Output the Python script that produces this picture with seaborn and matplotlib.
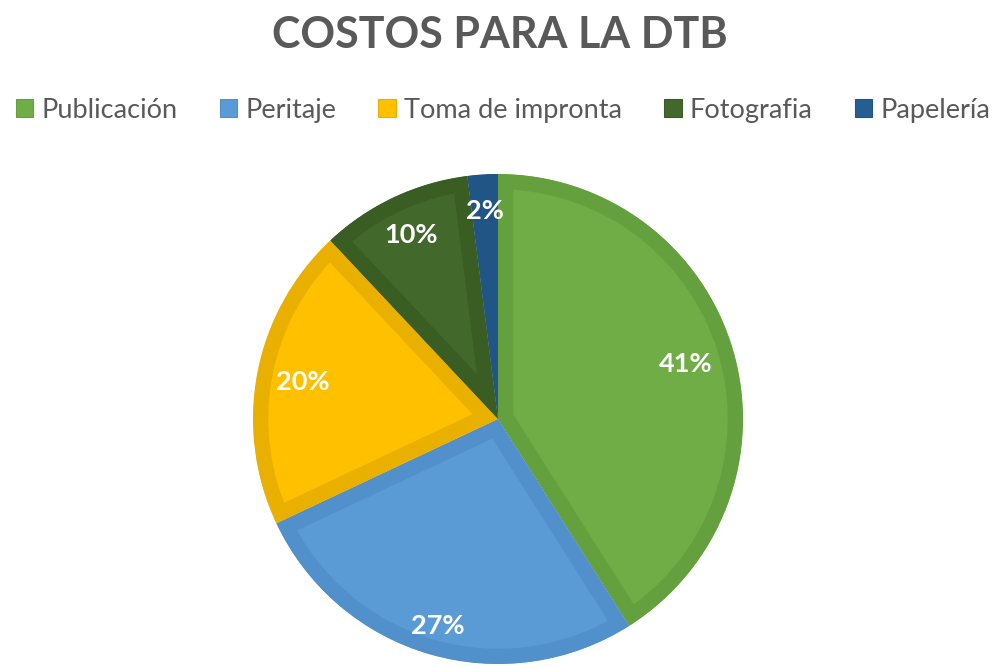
import matplotlib
matplotlib.use("Agg")
import numpy as np
import matplotlib.pyplot as plt
from matplotlib.patches import Patch
import seaborn as sns

# data
categories = ["Publicación", "Peritaje", "Toma de impronta", "Fotografia", "Papelería"]
values = [41, 27, 20, 10, 2]
fill_colors = ["#70AD47", "#5B9BD5", "#FFC000", "#43682B", "#255E91"]
edge_colors = ["#64A03E", "#5290CB", "#EAB000", "#3A5D24", "#215585"]
label_dist = [0.80, 0.88, 0.81, 0.83, 0.85]  # Excel "best fit" label spots

sns.set_style("white")
plt.rcParams['font.family'] = ['Lato', 'DejaVu Sans']

fig = plt.figure(figsize=(10, 6.67), dpi=100)
ax = fig.add_axes([0.253, 0.0045, 0.49, 0.7346])

wedges, texts, autotexts = ax.pie(
    values, colors=fill_colors, startangle=90, counterclock=False,
    autopct=lambda p: f"{p:.0f}%", pctdistance=0.84, radius=1,
    textprops=dict(color="white", fontsize=19.5, fontweight="bold"),
)
# inner border: thick edge clipped to the wedge itself
for w, ec in zip(wedges, edge_colors):
    w.set_edgecolor(ec)
    w.set_linewidth(22)
    w.set_joinstyle("miter")
    w.set_clip_on(True)
    w.set_clip_path(w)
for w, t, d in zip(wedges, autotexts, label_dist):
    a = np.deg2rad((w.theta1 + w.theta2) / 2)
    t.set_position((d * np.cos(a), d * np.sin(a)))
ax.set_xlim(-1, 1)
ax.set_ylim(-1, 1)
ax.set_aspect("equal")
ax.axis("off")

fig.text(0.5, 0.948, "COSTOS PARA LA DTB", ha="center", va="center",
         fontsize=31, fontweight="bold", color="#595959")

handles = [Patch(facecolor=c, edgecolor=e, linewidth=0.8) for c, e in zip(fill_colors, edge_colors)]
fig.legend(handles, categories, loc="center", bbox_to_anchor=(0.503, 0.835), ncol=5,
           frameon=False, fontsize=19.5, labelcolor="#595959",
           handlelength=0.65, handleheight=0.65, handletextpad=0.3, columnspacing=1.55)

fig.savefig("out.png", dpi=100)
